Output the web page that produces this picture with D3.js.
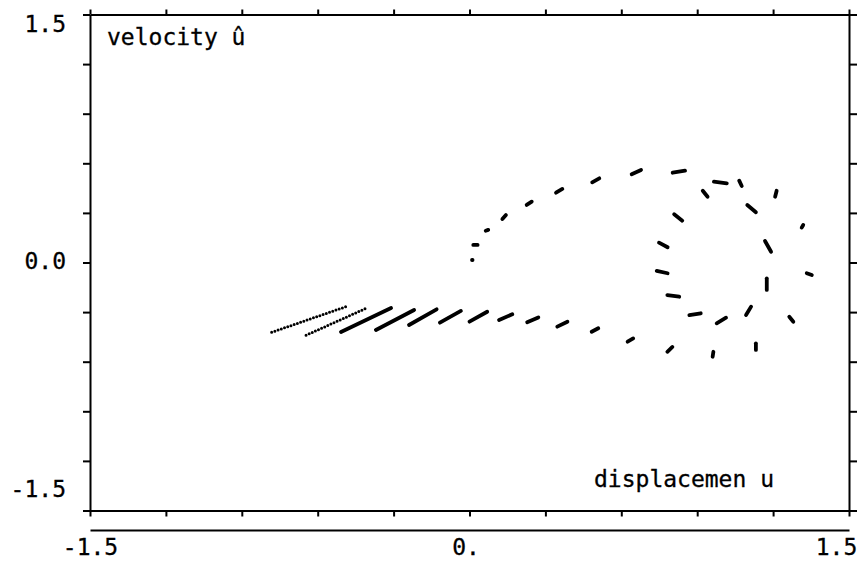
<!DOCTYPE html>
<html>
<head>
<meta charset="utf-8">
<script src="https://cdn.jsdelivr.net/npm/d3@7"></script>
<style>
  html, body { margin: 0; padding: 0; background: #fff; }
  svg { display: block; }
  text { font-family: "DejaVu Sans Mono", monospace; fill: #000; }
</style>
</head>
<body>
<svg id="chart" width="861" height="565"></svg>
<script>
// Stroboscopic phase portrait: each dash is a short piece of the trajectory
// (u, û) from its start point (u0, v0) to its end point (u1, v1).
const dashU0 = [
  // arc leaving the origin
  0.010, 0.015, 0.064, 0.130, 0.226, 0.342, 0.485, 0.641, 0.803,
  // limit cycle
  0.966, 1.098, 1.168, 1.175, 1.113, 1.014, 0.914, 0.829, 0.783, 0.783, 0.841, 0.941,
  // trajectory coming in from the left
  -0.782, -0.646, -0.508, -0.370, -0.239, -0.117, 0.000, 0.117, 0.228, 0.347, 0.483,
  0.625, 0.782, 0.961, 1.132, 1.264, 1.333, 1.319, 1.214, 1.066
];
const dashV0 = [
  0.015, 0.106, 0.192, 0.263, 0.348, 0.422, 0.485, 0.534, 0.543,
  0.489, 0.348, 0.130, -0.096, -0.267, -0.334, -0.307, -0.207, -0.065, 0.092, 0.253, 0.398,
  -0.422, -0.440, -0.420, -0.408, -0.378, -0.364, -0.358, -0.348, -0.362, -0.388, -0.419,
  -0.479, -0.540, -0.570, -0.529, -0.328, -0.065, 0.227, 0.434, 0.495
];
const dashU1 = [
  0.012, 0.032, 0.074, 0.144, 0.246, 0.367, 0.513, 0.678, 0.852,
  1.017, 1.132, 1.192, 1.175, 1.093, 0.977, 0.869, 0.782, 0.740, 0.749, 0.809, 0.922,
  -0.488, -0.406, -0.310, -0.219, -0.130, -0.034, 0.070, 0.169, 0.272, 0.387, 0.509,
  0.647, 0.802, 0.964, 1.132, 1.280, 1.353, 1.313, 1.208, 1.076
];
const dashV1 = [
  0.015, 0.106, 0.197, 0.287, 0.368, 0.445, 0.509, 0.560, 0.555,
  0.479, 0.304, 0.065, -0.166, -0.318, -0.368, -0.318, -0.197, -0.051, 0.120, 0.292, 0.434,
  -0.267, -0.275, -0.275, -0.287, -0.283, -0.293, -0.298, -0.313, -0.332, -0.358, -0.398,
  -0.459, -0.511, -0.540, -0.489, -0.358, -0.076, 0.211, 0.398, 0.463
];
// fast pieces, where the plotted points separate into dots
const dottedDashes = [21, 22];

const xTicks = [-1.5, -1.2, -0.9, -0.6, -0.3, 0, 0.3, 0.6, 0.9, 1.2, 1.5];
const yTicks = [-1.5, -1.2, -0.9, -0.6, -0.3, 0, 0.3, 0.6, 0.9, 1.2, 1.5];
const yLabelValues = [1.5, 0, -1.5];
const yLabelTexts = ["1.5", "0.0", "-1.5"];
const xLabelValues = [-1.5, 0, 1.5];
const xLabelTexts = ["-1.5", "0.", "1.5"];
const yTitle = "velocity û";
const xTitle = "displacemen u";

const svg = d3.select("#chart");
const frameLeft = 90, frameRight = 849, frameTop = 14.5, frameBottom = 510.5;
const x = d3.scaleLinear().domain([-1.5, 1.5]).range([frameLeft, frameRight]);
const y = d3.scaleLinear().domain([-1.5, 1.5]).range([frameBottom, frameTop]);

svg.append("rect").attr("width", 861).attr("height", 565).attr("fill", "#fff");

function styleAxis(g) {
  g.attr("font-family", null).attr("font-size", null);
  g.select(".domain").attr("stroke", "#000").attr("stroke-width", 2);
  g.selectAll(".tick line").attr("stroke", "#000").attr("stroke-width", 2);
}

// frame with outward ticks on all four sides
svg.append("g").attr("transform", `translate(0,${frameTop})`)
  .call(d3.axisTop(x).tickValues(xTicks).tickSize(5).tickSizeOuter(0).tickFormat(""))
  .call(styleAxis);
svg.append("g").attr("transform", `translate(0,${frameBottom})`)
  .call(d3.axisBottom(x).tickValues(xTicks).tickSize(6).tickSizeOuter(0).tickFormat(""))
  .call(styleAxis);
svg.append("g").attr("transform", `translate(${frameLeft},0)`)
  .call(d3.axisLeft(y).tickValues(yTicks).tickSize(7).tickSizeOuter(0).tickFormat(""))
  .call(styleAxis);
svg.append("g").attr("transform", `translate(${frameRight},0)`)
  .call(d3.axisRight(y).tickValues(yTicks).tickSize(8).tickSizeOuter(0).tickFormat(""))
  .call(styleAxis);

// separate labelled u axis below the frame
const xAxis2 = svg.append("g").attr("transform", "translate(0,530)")
  .call(d3.axisBottom(x).tickValues(xLabelValues).tickSize(0).tickSizeOuter(0)
    .tickFormat((d, i) => xLabelTexts[i]))
  .call(styleAxis);
xAxis2.selectAll(".tick text")
  .attr("font-size", 23)
  .attr("y", 25)
  .attr("dy", 0)
  .attr("dx", (d, i) => [0, -4, -13][i])
  .attr("fill", "#000")
  .attr("stroke", "#000")
  .attr("stroke-width", 0.3);

// û axis labels
svg.append("g").selectAll("text")
  .data(yLabelValues)
  .join("text")
  .attr("x", 66)
  .attr("y", (d, i) => y(d) + [17.5, 6, -13.5][i])
  .attr("text-anchor", "end")
  .attr("font-size", 23)
  .attr("stroke", "#000")
  .attr("stroke-width", 0.3)
  .text((d, i) => yLabelTexts[i]);

// axis titles inside the frame
svg.append("text").attr("x", 107).attr("y", 45).attr("font-size", 23)
  .attr("stroke", "#000").attr("stroke-width", 0.3).text(yTitle);
svg.append("text").attr("x", 594).attr("y", 487).attr("font-size", 23)
  .attr("stroke", "#000").attr("stroke-width", 0.3).text(xTitle);

// trajectory dashes
const dashIdx = d3.range(dashU0.length);
svg.append("g").selectAll("line")
  .data(dashIdx)
  .join("line")
  .attr("x1", i => x(dashU0[i]))
  .attr("y1", i => y(dashV0[i]))
  .attr("x2", i => x(dashU1[i]))
  .attr("y2", i => y(dashV1[i]))
  .attr("stroke", "#000")
  .attr("stroke-linecap", "round")
  .attr("stroke-width", i => dottedDashes.includes(i) ? 3 : 3.8)
  .attr("stroke-dasharray", i => dottedDashes.includes(i) ? "0 3.4" : null);
</script>
</body>
</html>
